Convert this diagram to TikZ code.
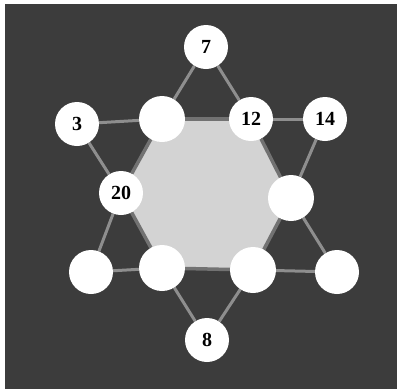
\documentclass[tikz,border=0pt]{standalone}
\usepackage{fontspec}
\setmainfont{Liberation Serif}
\usetikzlibrary{backgrounds}
\definecolor{bgdark}{HTML}{3C3C3C}
\definecolor{linegray}{HTML}{8E8E8E}
\definecolor{hexfill}{HTML}{D3D3D3}
\tikzset{
  ball/.style={circle, fill=white, draw=none, minimum size=44pt, inner sep=0pt,
    font=\fontsize{20}{22}\selectfont\bfseries},
  starline/.style={draw=linegray, line width=3pt},
  hexline/.style={draw=linegray!80!black, line width=3.5pt},
}
\begin{document}
\begin{tikzpicture}[x=1pt,y=-1pt]
\useasboundingbox (0,0) rectangle (397,389);
% nodes
\node[ball] (n7)  at (206,47)  {7};
\node[ball] (n3)  at (77,124)  {3};
\node[ball, minimum size=46pt] (tl) at (162,119) {};
\node[ball] (n12) at (251,119) {12};
\node[ball] (n14) at (325,119) {14};
\node[ball] (n20) at (121,193) {20};
\node[ball, minimum size=46pt] (ri) at (291,198) {};
\node[ball] (blo) at (91,272)  {};
\node[ball, minimum size=46pt] (bli) at (162,268) {};
\node[ball, minimum size=46pt] (bri) at (253,270) {};
\node[ball] (bro) at (337,272) {};
\node[ball] (n8)  at (207,340) {8};
\begin{scope}[on background layer]
  \fill[white] (0,0) rectangle (397,389);
  \fill[bgdark] (5,4) rectangle (397,389);
  \fill[hexfill] (tl.center) -- (n12.center) -- (ri.center) -- (bri.center) -- (bli.center) -- (n20.center) -- cycle;
  % hexagon edges
  \draw[hexline] (tl) -- (n12);
  \draw[hexline] (n12) -- (ri);
  \draw[hexline] (ri) -- (bri);
  \draw[hexline] (bri) -- (bli);
  \draw[hexline] (bli) -- (n20);
  \draw[hexline] (n20) -- (tl);
  % star outer edges
  \draw[starline] (n7) -- (tl);
  \draw[starline] (n7) -- (n12);
  \draw[starline] (n3) -- (tl);
  \draw[starline] (n12) -- (n14);
  \draw[starline] (n3) -- (n20);
  \draw[starline] (n14) -- (ri);
  \draw[starline] (n20) -- (blo);
  \draw[starline] (ri) -- (bro);
  \draw[starline] (blo) -- (bli);
  \draw[starline] (bri) -- (bro);
  \draw[starline] (bli) -- (n8);
  \draw[starline] (bri) -- (n8);
\end{scope}
\end{tikzpicture}
\end{document}
